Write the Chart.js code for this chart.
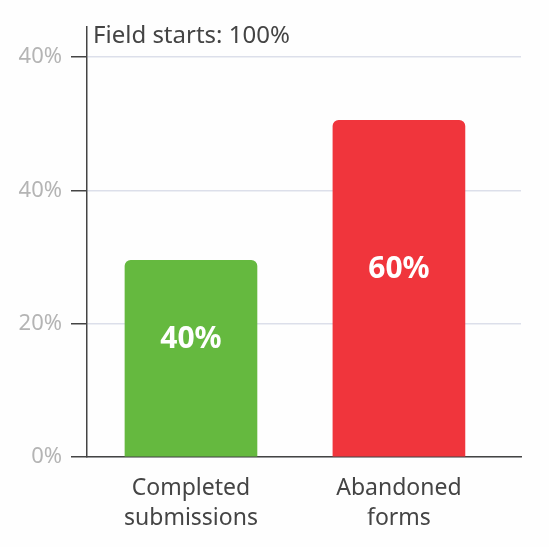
<!DOCTYPE html>
<html><head><meta charset="utf-8">
<style>html,body{margin:0;padding:0;background:#fefefe}canvas{display:block}</style>
<script src="https://cdn.jsdelivr.net/npm/chart.js@4"></script>
</head><body><canvas id="c" width="549" height="547"></canvas>
<script>
const categories = [["Completed","submissions"],["Abandoned","forms"]];
const barHeights = [29.5, 50.5];
const barLabels = ["40%","60%"];
const barColors = ["#65b93f","#f0353c"];
const yTicks = [0,20,40,60];
const yTickLabels = ["0%","20%","40%","40%"];
const noteText = "Field starts: 100%";
const FONT = '"Noto Sans"';

const overlay = {
  id:'overlay',
  afterDatasetsDraw(chart){
    const {ctx,scales:{x,y},chartArea} = chart;
    ctx.save();
    ctx.fillStyle='#444';
    ctx.font='24px '+FONT;
    ctx.textAlign='left';ctx.textBaseline='middle';
    ctx.fillText(noteText,chartArea.left+6,36);
    ctx.fillStyle='#fff';
    ctx.font='bold 30px '+FONT;
    ctx.textAlign='center';
    barHeights.forEach((v,i)=>ctx.fillText(barLabels[i],x.getPixelForValue(i),y.getPixelForValue(v/2)-19));
    ctx.restore();
  }
};
new Chart(document.getElementById('c'),{
  type:'bar',
  data:{datasets:[{
    data:barHeights.map((v,i)=>({x:i,y:v})),
    backgroundColor:barColors,
    barThickness:132,
    borderRadius:{topLeft:6,topRight:6,bottomLeft:0,bottomRight:0},
    borderSkipped:false
  }]},
  plugins:[overlay],
  options:{
    responsive:false,animation:false,devicePixelRatio:1,
    layout:{padding:{top:27,right:28,left:0,bottom:0}},
    plugins:{legend:{display:false},tooltip:{enabled:false}},
    scales:{
      x:{type:'linear',offset:false,min:-0.5,max:1.587,
        afterBuildTicks(s){s.ticks=categories.map((_,i)=>({value:i}));},
        grid:{display:false,offset:false},
        border:{color:'#444',width:1.5},
        afterFit(s){s.height=90;},
        ticks:{autoSkip:false,maxRotation:0,padding:9,color:'#444',
          font:{family:FONT,size:23,lineHeight:1.3},
          callback:(v)=>categories[v]}
      },
      y:{min:0,max:64.5,
        afterBuildTicks(s){s.ticks=yTicks.map(v=>({value:v}));},
        afterFit(s){s.width=87;},
        grid:{color:'#dcdfea',lineWidth:1.5,tickColor:'#444',tickLength:16},
        border:{color:'#444',width:1.5},
        ticks:{padding:9,color:'#b4b4b4',font:{family:FONT,size:22},
          callback:(v)=>yTickLabels[yTicks.indexOf(v)]}
      }
    }
  }
});
</script></body></html>
